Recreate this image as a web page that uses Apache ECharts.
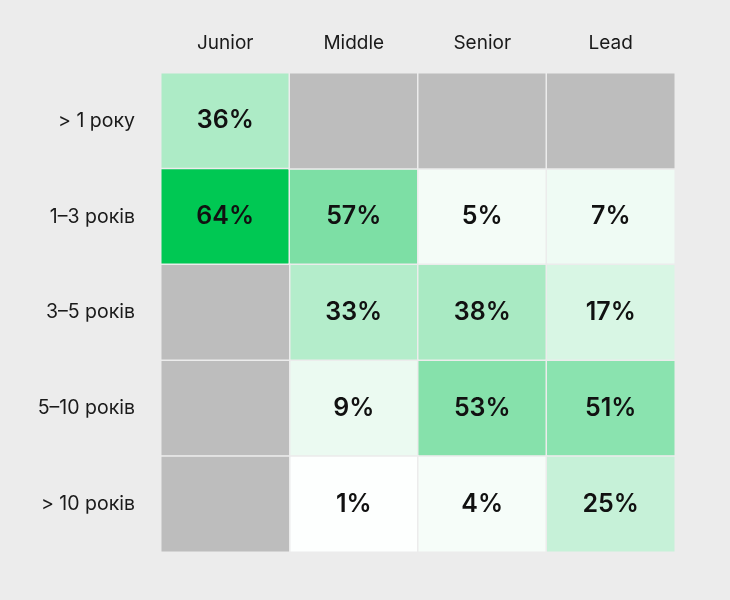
<!DOCTYPE html>
<html>
<head>
<meta charset="utf-8">
<script src="https://cdn.jsdelivr.net/npm/echarts@6/dist/echarts.min.js"></script>
<style>
html,body{margin:0;padding:0;background:#ececec;}
#chart{width:730px;height:600px;}
</style>
</head>
<body>
<div id="chart"></div>
<script>
const levels = ['Junior', 'Middle', 'Senior', 'Lead'];
const experience = ['> 1 року', '1–3 років', '3–5 років', '5–10 років', '> 10 років'];
// percent values per experience row, per level column (null = no data)
const row1 = [36, null, null, null];
const row2 = [64, 57, 5, 7];
const row3 = [null, 33, 38, 17];
const row4 = [null, 9, 53, 51];
const row5 = [null, 1, 4, 25];
const rows = [row1, row2, row3, row4, row5];

const valueData = [];
const missingData = [];
rows.forEach((r, yi) => {
  r.forEach((v, xi) => {
    if (v === null) missingData.push([xi, yi, 0]);
    else valueData.push([xi, yi, v]);
  });
});

// colour ramp: linear white -> light green up to 60, then strong green at 64
function hex(n){return ('0'+Math.round(n).toString(16)).slice(-2);}
const rampColors = [];
const a = [255,255,255], b = [118,221,160];
for (let i = 0; i <= 15; i++) {
  const t = i / 15;
  rampColors.push('#' + hex(a[0]+(b[0]-a[0])*t) + hex(a[1]+(b[1]-a[1])*t) + hex(a[2]+(b[2]-a[2])*t));
}
rampColors.push('#00c853');

const chart = echarts.init(document.getElementById('chart'));
const font = 'Inter, "Noto Sans", sans-serif';
chart.setOption({
  backgroundColor: '#ececec',
  animation: false,
  grid: { left: 161, right: 55, top: 73, bottom: 48 },
  xAxis: {
    type: 'category', data: levels, position: 'top',
    axisLine: { show: false }, axisTick: { show: false }, splitLine: { show: false },
    axisLabel: { color: '#1a1a1a', fontSize: 19, fontFamily: font, margin: 20 }
  },
  yAxis: {
    type: 'category', data: experience, inverse: true,
    axisLine: { show: false }, axisTick: { show: false }, splitLine: { show: false },
    axisLabel: { color: '#1a1a1a', fontSize: 19.5, fontFamily: font, margin: 26 }
  },
  visualMap: {
    show: false, type: 'continuous', min: 0, max: 64, seriesIndex: 0,
    inRange: { color: rampColors }
  },
  series: [
    {
      type: 'heatmap', data: valueData,
      itemStyle: { borderColor: '#ececec', borderWidth: 1.5 },
      label: {
        show: true, fontSize: 25, fontWeight: 600, fontFamily: font, color: '#111',
        formatter: p => p.value[2] + '%'
      },
      emphasis: { disabled: true }
    },
    {
      type: 'heatmap', data: missingData,
      itemStyle: { color: '#bdbdbd', borderColor: '#ececec', borderWidth: 1.5 },
      label: { show: false },
      emphasis: { disabled: true }
    }
  ]
});
</script>
</body>
</html>
